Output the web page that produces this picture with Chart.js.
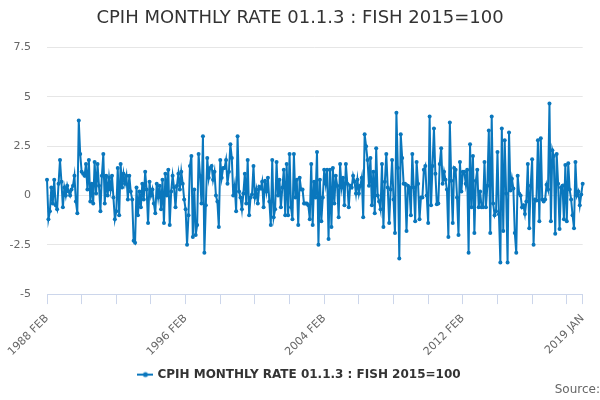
<!DOCTYPE html>
<html>
<head>
<meta charset="utf-8">
<script src="https://cdn.jsdelivr.net/npm/chart.js@4.4.0/dist/chart.umd.min.js"></script>
<style>
    html, body { margin: 0; padding: 0; background: #fff; }
    #wrap { width: 600px; height: 400px; }
</style>
</head>
<body>
<div id="wrap"><canvas id="rateChart"></canvas></div>
<script>
// 系列名称
const seriesName = 'CPIH MONTHLY RATE 01.1.3 : FISH 2015=100';

// 月份名称（标签从 1988 FEB 开始）
const monthNames = ['JAN', 'FEB', 'MAR', 'APR', 'MAY', 'JUN', 'JUL', 'AUG', 'SEP', 'OCT', 'NOV', 'DEC'];
const firstYear = 1988;
const firstMonth = 1; // FEB

// 月度变化率（%），按时间段分组
const rate1988Feb = [0.8, -1.2, -0.8, 0.4, -0.4, 0.8, -0.5, -0.7, 0.6, 1.8, 0.7, -0.6, 0.4, 0.0, 0.5, 0.2,
    0.0, 0.3, 0.5, 1.0, -0.3, -0.9, 3.8, 2.1, 1.2, 1.1, 1.0, 1.6, 0.3, 1.8, -0.3, 0.6, -0.4, 1.7, 0.1, 1.6,
    0.5, -0.8, 1.0, 2.1, -0.4, 1.0, 0.0, 0.9, 0.3, 1.0, -0.1, -1.2, -0.8, 1.4, -1.0, 1.6, 0.4, 1.1, 0.6, 1.0,
    -0.2, 1.0, 0.2, -0.2, -2.3, -2.4, 0.4, -1.0];
const rate1993Jun = [0.2, -0.6, 0.6, -0.2, 1.2, 0.3, -1.4, 0.7, 0.0, 0.3, -0.4, -0.9, 0.6, -0.1, 0.5, -0.7, 0.8];
const rate1994Nov = [-1.4, 1.1, 0.0, 1.3, -1.5, 0.2, 1.0, 0.4, -0.6, 0.5, 1.1, 0.3, 1.2, 0.6, -0.2, -0.7,
    -2.5, -1.0, 1.5, 2.0, -2.1, 0.3, -2.0, -1.5, 2.1, 1.0, -0.4, 3.0, -2.9, -0.5, 1.9, 0.9, 1.4, 1.5, 0.8, 1.2,
    0.0, -0.3, -1.6, 1.8, 0.9, 1.4];
const rate1998May = [1.4, 1.8, 0.6, 1.2, 2.6, 1.9, 0.0, 0.5, -0.8, 3.0, 0.2, -0.1, -0.7, 0.1, 1.1, -0.4,
    1.8, -1.0, -0.1, 0.05, 1.5, -0.1, 0.3, -0.4, 0.45, 0.35, 0.7, -0.6, 0.75, 0.2, 0.9, -0.3, -1.5, 1.8, -1.1,
    -0.7, 1.7, 0.0, 0.8, -0.6, 0.4, 1.3, -1.0];
const rate2001Dec = [1.6, -1.0, 2.1, -0.6, -1.2, 2.1, -0.1, 0.8, -1.5, 0.9, 0.3, 0.3, -0.4, -0.4, -0.4, -0.5,
    -1.2, 1.6, -1.5, 0.7, -0.1, 2.2, -2.5, 0.8, -1.3, -0.1, 1.3, 0.6, 1.3, -2.2, 1.3, -1.6, 1.4, -0.4, 1.0,
    0.5, -1.1, 1.6, 0.4, 0.9, -0.5];
const rate2005May = [1.6, 0.6, -0.6, 0.5, 0.4, 1.0, 0.7, 0.1, 0.8, 0.1, 0.5, 0.9, -1.1, 3.1, 2.5, 1.8, 0.5,
    1.9, -0.5, 1.2, -0.9, 2.4, 0.0, -0.3, -0.7, 1.6, -1.6, 0.7, 2.1, 0.4, -1.4, 0.3, 1.8, -0.2, -1.9, 4.2, 1.4,
    -3.2, 3.1, 1.9];
const rate2008Sep = [0.6, 0.6, -1.8, 0.5, 0.4, -1.0, 2.1, 0.4, -1.3, 1.7, 0.6, -1.2, -0.1, -0.1, 1.3, 1.5,
    0.0, -1.4, 4.0, -0.5, 1.5, 3.4, 1.1, -0.45, -0.4, 1.6, 2.4, 0.6, 1.2, 0.8, 0.3, -2.1, 3.7, 0.75, -1.4, 1.4,
    1.3, -0.1, -2.0, 1.7, 0.2, 1.2];
const rate2012Mar = [1.2, 0.6, 1.3, -2.9, 2.6, -0.6, 2.0, -1.9, 0.75, 1.3, -0.6, 0.2, -0.6, -0.6, 1.7, -0.6,
    0.5, 3.3, -1.9, 4.0, -0.4, -1.0, -0.8, 2.2, -0.95, -3.4, 3.4, -1.8, 2.8, 0.1, -3.4, 3.2, 0.25, 0.85, 0.35,
    -1.9, -2.9, 1.0, 0.1, 0.0, -0.6];
const rate2015Aug = [-0.5, -0.94, -0.3, 1.6, -1.66, 0.5, 1.84, -2.5, -0.2, -0.25, 2.8, -1.3, 2.9, -0.2, -0.3,
    -0.2, 0.55, 0.3, 4.67, -1.3, 2.3, 2.0, -1.94, 2.1, 0.6, -1.7, 0.4, 0.5, -1.2, 1.55, -1.3, 1.64, 0.3, -0.2,
    -1.0, -1.66, 1.7, 0.0, 0.2, -0.5, 0.05, 0.6];

// Y 轴刻度
const yMin = -5;
const yMax = 7.5;
const yStep = 2.5;

// 合并所有数据
const rates = [].concat(rate1988Feb, rate1993Jun, rate1994Nov, rate1998May, rate2001Dec,
    rate2005May, rate2008Sep, rate2012Mar, rate2015Aug);

// 生成月份标签
const labels = rates.map((v, i) => {
    const m = firstMonth + i;
    return (firstYear + Math.floor(m / 12)) + ' ' + monthNames[m % 12];
});

const lineColor = '#0a77bd';
const fontFamily = '"DejaVu Sans", sans-serif';

// 图例图标：短线 + 圆点
const legendIcon = document.createElement('canvas');
legendIcon.width = 16;
legendIcon.height = 10;
const ictx = legendIcon.getContext('2d');
ictx.strokeStyle = lineColor;
ictx.lineWidth = 2;
ictx.beginPath();
ictx.moveTo(0, 5);
ictx.lineTo(16, 5);
ictx.stroke();
ictx.fillStyle = lineColor;
ictx.beginPath();
ictx.arc(8, 5, 2.5, 0, Math.PI * 2);
ictx.fill();

const ctx = document.getElementById('rateChart').getContext('2d');
new Chart(ctx, {
    type: 'line',
    data: {
        labels: labels,
        datasets: [{
            label: seriesName,
            data: rates,
            borderColor: lineColor,
            backgroundColor: lineColor,
            borderWidth: 2,
            pointRadius: 2,
            pointBorderWidth: 0,
            pointBackgroundColor: lineColor,
            tension: 0
        }]
    },
    options: {
        responsive: true,
        maintainAspectRatio: false,
        animation: false,
        layout: {
            padding: { left: 0, right: 0, top: 0, bottom: 3 }
        },
        plugins: {
            title: {
                display: true,
                text: seriesName,
                color: '#333333',
                font: { family: fontFamily, size: 18, weight: 'normal' },
                padding: { top: 8, bottom: 18 }
            },
            subtitle: {
                display: true,
                position: 'bottom',
                align: 'end',
                text: 'Source:',
                color: '#666666',
                font: { family: fontFamily, size: 12, weight: 'normal' },
                // 负的上边距让图例更靠近底部
                padding: { top: -8, bottom: 0 }
            },
            legend: {
                position: 'bottom',
                labels: {
                    usePointStyle: true,
                    pointStyle: legendIcon,
                    color: '#333333',
                    font: { family: fontFamily, size: 12, weight: 'bold' },
                    padding: 10
                }
            },
            tooltip: { enabled: false }
        },
        scales: {
            x: {
                grid: {
                    drawOnChartArea: false,
                    color: '#ccd6eb',
                    tickLength: 10
                },
                border: { color: '#ccd6eb' },
                afterBuildTicks: function(scale) {
                    // 每 24 个月一个刻度，最后一个月单独加上
                    const last = labels.length - 1;
                    const kept = [];
                    for (let i = 0; i < last; i += 24) kept.push({ value: i });
                    kept.push({ value: last });
                    scale.ticks = kept;
                },
                afterFit: function(scale) {
                    scale.height = 64.5;
                },
                ticks: {
                    autoSkip: false,
                    minRotation: 45,
                    maxRotation: 45,
                    padding: 8,
                    color: '#666666',
                    font: { family: fontFamily, size: 11 },
                    callback: function(value) {
                        if (value % 96 === 0 || value === labels.length - 1) {
                            return this.getLabelForValue(value);
                        }
                        return '';
                    }
                }
            },
            y: {
                min: yMin,
                max: yMax,
                afterFit: function(scale) {
                    scale.width = 47;
                },
                grid: {
                    color: '#e6e6e6',
                    drawTicks: false
                },
                border: { display: false },
                ticks: {
                    stepSize: yStep,
                    padding: 16,
                    color: '#666666',
                    font: { family: fontFamily, size: 11 }
                }
            },
            // 右侧留白，使标题和图例居中于整个画布
            yRight: {
                position: 'right',
                afterFit: function(scale) {
                    scale.width = 17;
                },
                grid: { display: false },
                border: { display: false },
                ticks: { display: false }
            }
        }
    }
});
</script>
</body>
</html>
